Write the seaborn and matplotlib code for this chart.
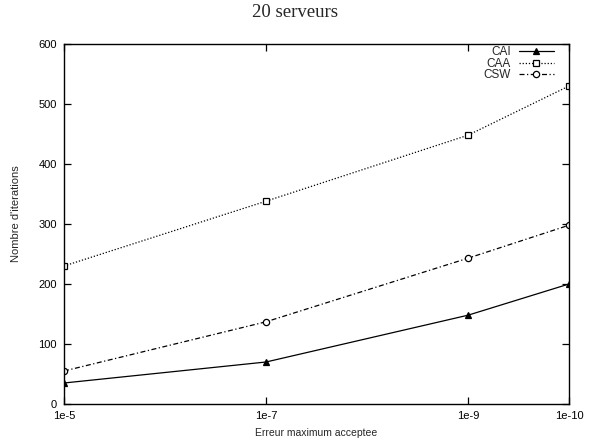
import numpy as np
import pandas as pd
import matplotlib
matplotlib.use("Agg")
import matplotlib.pyplot as plt
import seaborn as sns

# exposant de l'erreur maximum acceptee (1e-5 ... 1e-10)
exposants = [5, 7, 9, 10]
labels_x = ["1e-5", "1e-7", "1e-9", "1e-10"]

cai = [35, 70, 148, 200]
caa = [230, 338, 448, 530]
csw = [55, 137, 243, 298]

sns.set_style("ticks")
plt.rcParams['font.family'] = ['Liberation Sans', 'DejaVu Sans']

fig = plt.figure(figsize=(5.89, 4.41), dpi=100)
ax = fig.add_axes([64/589, 37/441, 505/589, 360/441])

styles = {
    'CAI': dict(y=cai, ls='-', marker='^', mfc='black', ms=4),
    'CAA': dict(y=caa, ls=(0, (1, 1.5)), marker='s', mfc='white', ms=5),
    'CSW': dict(y=csw, ls=(0, (4, 2, 1, 2)), marker='o', mfc='white', ms=4.5),
}
for name, st in styles.items():
    df = pd.DataFrame({'x': exposants, 'y': st['y']})
    sns.lineplot(data=df, x='x', y='y', ax=ax, color='black', lw=0.9,
                 linestyle=st['ls'], marker=st['marker'], markersize=st['ms'],
                 markerfacecolor=st['mfc'], markeredgecolor='black',
                 markeredgewidth=0.9, label=name)

ax.set_xlim(5, 10)
ax.set_ylim(0, 600)
ax.set_xticks(exposants)
ax.set_xticklabels(labels_x)
ax.set_yticks(range(0, 601, 100))
ax.tick_params(direction='in', top=True, right=True, length=5, width=0.9,
               labelsize=8, colors='black')
ax.tick_params(axis='x', pad=5)
ax.tick_params(axis='y', pad=5)
for s in ax.spines.values():
    s.set_linewidth(1.0)
    s.set_color('black')

ax.set_xlabel("Erreur maximum acceptee", fontsize=7.5)
ax.set_ylabel("Nombre d'iterations", fontsize=8)
ax.xaxis.set_label_coords(0.5, -0.068)
ax.yaxis.set_label_coords(-0.085, 0.528)
fig.suptitle("20 serveurs", fontsize=13.5, family=['Liberation Serif'], y=0.99)

ax.legend(loc='upper right', bbox_to_anchor=(0.974, 1.0), frameon=False,
          markerfirst=False, fontsize=8.5, handlelength=2.9,
          handletextpad=0.7, labelspacing=-0.05, borderaxespad=0,
          borderpad=0.2)

fig.savefig("out.png", dpi=100)
